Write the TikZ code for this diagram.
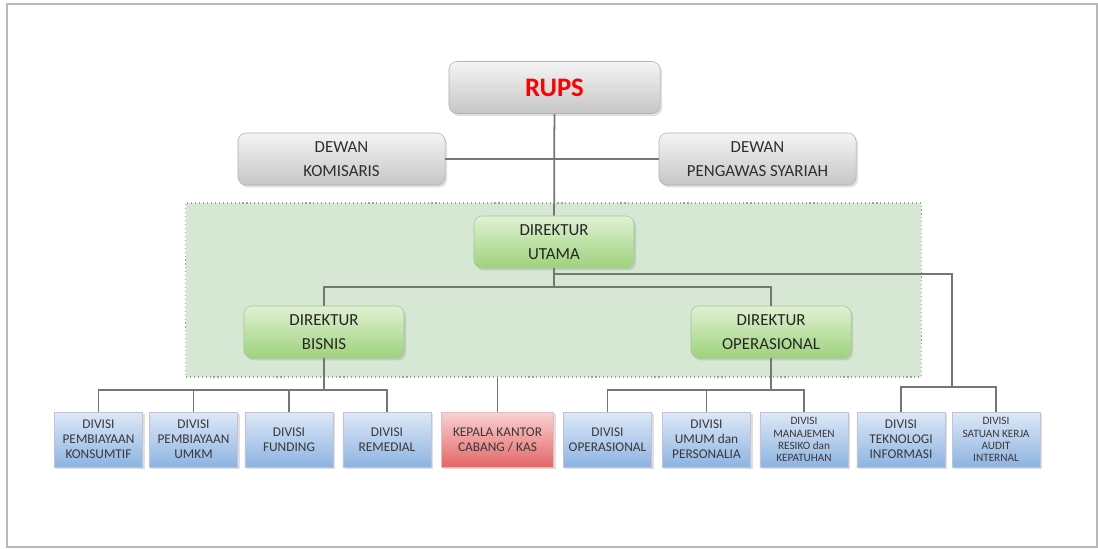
\documentclass[tikz,border=0pt]{standalone}
\usepackage{fontspec}
\setmainfont{Carlito}
\usetikzlibrary{positioning,shadows,backgrounds}

\definecolor{linegray}{HTML}{767676}
\definecolor{boardtop}{HTML}{F4F4F4}
\definecolor{boardbot}{HTML}{C6C6C6}
\definecolor{dirtop}{HTML}{E0F1D2}
\definecolor{dirbot}{HTML}{9ED27C}
\definecolor{divtop}{HTML}{DEE9F7}
\definecolor{divbot}{HTML}{8DB3E2}
\definecolor{cabtop}{HTML}{F9D2D2}
\definecolor{cabbot}{HTML}{E46666}
\definecolor{regionfill}{HTML}{D6E8D3}

\begin{document}
\begin{tikzpicture}[
  x=0.025cm, y=-0.025cm,
  conn/.style={draw=linegray, line width=1.25pt},
  shade/.style={drop shadow={shadow xshift=0.5mm, shadow yshift=-0.6mm, opacity=0.25}},
  board/.style={shade, draw=gray!60, rounded corners=2mm, top color=boardtop, bottom color=boardbot, align=center, text=black!82, font=\fontsize{12}{17}\selectfont, minimum height=1.3cm},
  director/.style={shade, draw=green!30!gray!60, rounded corners=2mm, top color=dirtop, bottom color=dirbot, align=center, text=black!85, font=\fontsize{12}{17}\selectfont, minimum width=4cm, minimum height=1.3cm},
  division/.style={shade, draw=blue!20!gray!40, top color=divtop, bottom color=divbot, align=center, text=black!78, font=\fontsize{9.5}{10.7}\selectfont, minimum width=2.2cm, minimum height=1.375cm, inner sep=1pt},
  smalldiv/.style={division, font=\fontsize{8}{8.7}\selectfont},
]
\useasboundingbox (0,0) rectangle (1098,548);
\draw[gray!55, line width=0.8pt] (7,4) rectangle (1097,547);

% top: general meeting and the two boards
\node[board, minimum width=5.275cm, font=\fontsize{19}{22}\selectfont\bfseries, text=red] (rups) at (554.5,87.5) {RUPS};
\node[board, minimum width=5.175cm] (komisaris) at (341.5,159) {DEWAN\\KOMISARIS};
\node[board, minimum width=4.925cm] (pengawas) at (757.5,159) {DEWAN\\PENGAWAS SYARIAH};

% board of directors
\node[director] (dirut) at (554,242) {DIREKTUR\\UTAMA};
\node[director] (dirbis) at (324,332) {DIREKTUR\\BISNIS};
\node[director] (dirops) at (771,332) {DIREKTUR\\OPERASIONAL};
\begin{pgfonlayer}{background}
\node[draw=gray!75, dotted, line width=0.8pt, fill=regionfill, minimum width=18.375cm, minimum height=4.35cm, inner sep=0pt] (direksi) at (553.5,290) {};
\end{pgfonlayer}

% divisions
\node[division] (konsumtif) at (98.5,439.5) {DIVISI\\PEMBIAYAAN\\KONSUMTIF};
\node[division] (umkm) at (193.5,439.5) {DIVISI\\PEMBIAYAAN\\UMKM};
\node[division] (funding) at (289,439.5) {DIVISI\\FUNDING};
\node[division] (remedial) at (387,439.5) {DIVISI\\REMEDIAL};
\node[division, top color=cabtop, bottom color=cabbot, draw=red!25!gray!40, minimum width=2.8cm] (cabang) at (497.5,439.5) {KEPALA KANTOR\\CABANG / KAS};
\node[division] (operasional) at (607.5,439.5) {DIVISI\\OPERASIONAL};
\node[division] (umum) at (706.5,439.5) {DIVISI\\UMUM dan\\PERSONALIA};
\node[smalldiv] (risiko) at (804,439.5) {DIVISI\\MANAJEMEN\\RESIKO dan\\KEPATUHAN};
\node[division] (ti) at (901,439.5) {DIVISI\\TEKNOLOGI\\INFORMASI};
\node[smalldiv] (skai) at (996,439.5) {DIVISI\\SATUAN KERJA\\AUDIT\\INTERNAL};

% junctions
\coordinate (itjoint) at (554,274);
\coordinate (itbus) at (952,387);
\coordinate (dirjoint) at (554,287);
\coordinate (bisbus) at (324,390);
\coordinate (opsbus) at (771,390);

% connectors
\draw[conn] (rups) -- (dirut);
\draw[conn] (komisaris) -- (pengawas);
\draw[conn] (dirut) -- (dirjoint);
\draw[conn] (dirbis.north) |- (dirjoint) -| (dirops.north);
\draw[conn] (itjoint) -| (itbus);
\draw[conn] (ti.north) |- (itbus) -| (skai.north);
\draw[conn] (dirbis) -- (bisbus);
\draw[conn] (konsumtif.north) |- (bisbus) -| (remedial.north);
\draw[conn] (umkm.north) -- (umkm.north |- bisbus);
\draw[conn] (funding.north) -- (funding.north |- bisbus);
\draw[conn] (dirops) -- (opsbus);
\draw[conn] (operasional.north) |- (opsbus) -| (risiko.north);
\draw[conn] (umum.north) -- (umum.north |- opsbus);
\draw[conn] (direksi.south -| cabang.north) -- (cabang.north);

\end{tikzpicture}
\end{document}
